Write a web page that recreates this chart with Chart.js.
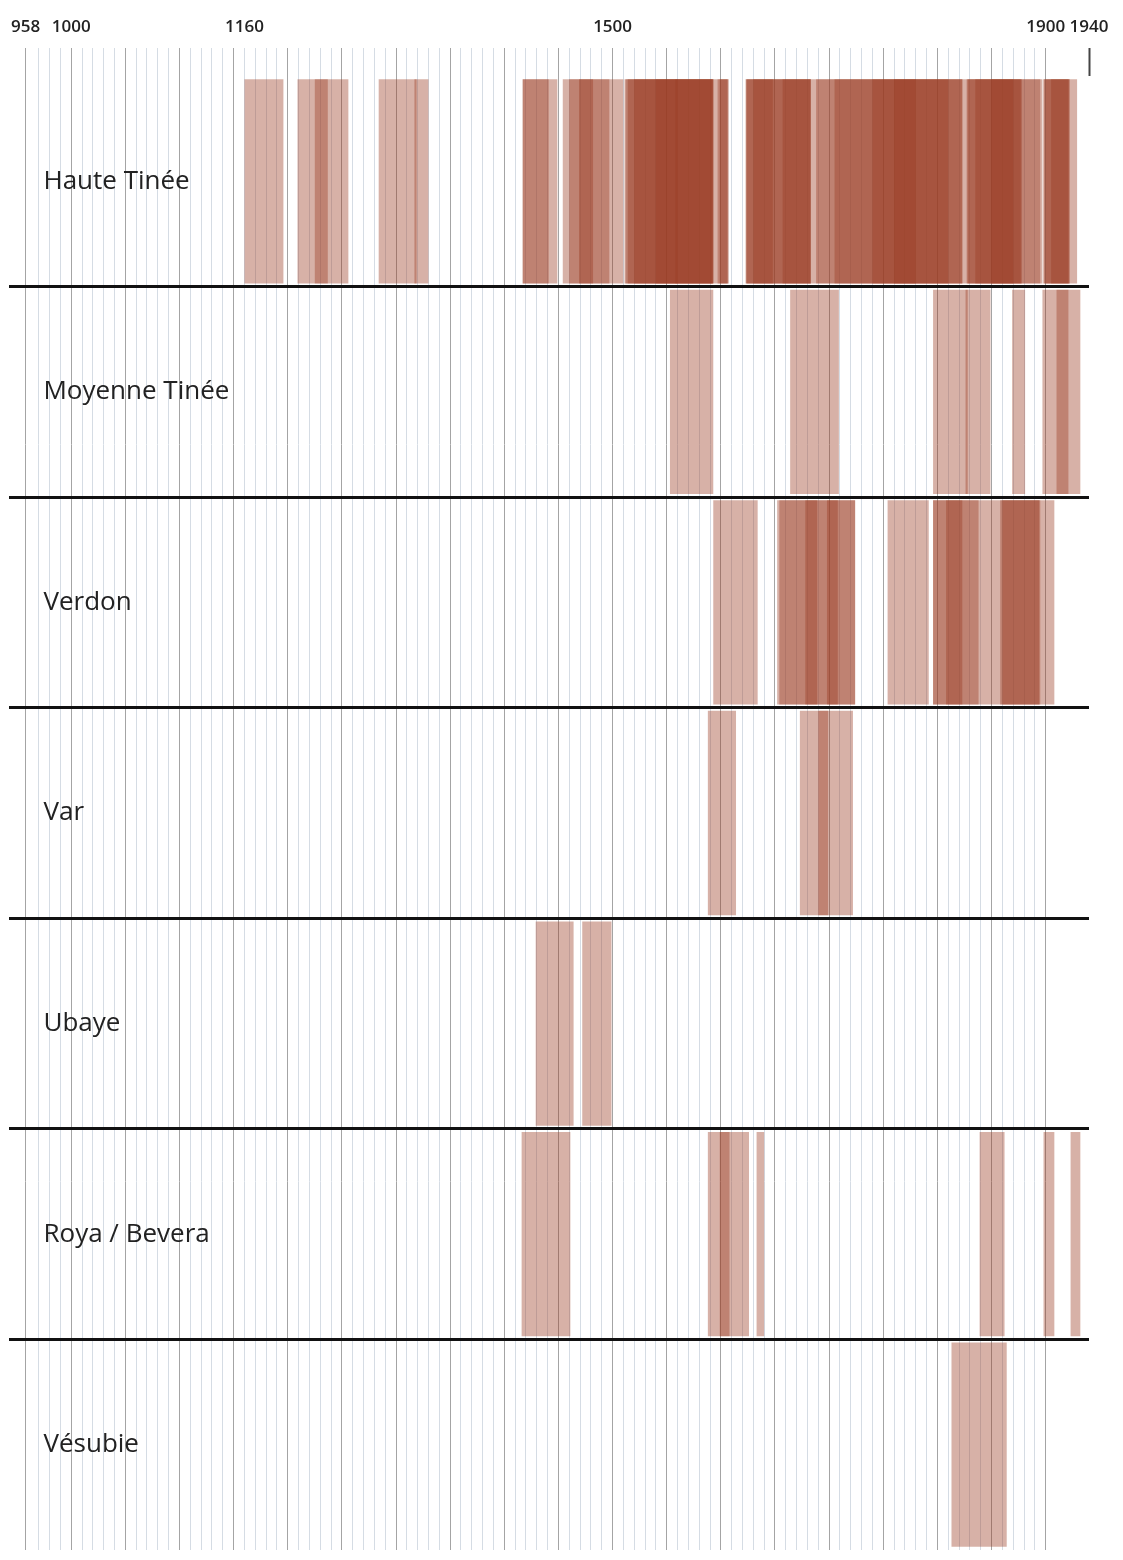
<!DOCTYPE html>
<html>
<head>
<meta charset="utf-8">
<title>Chronologie par vallée</title>
<script src="https://cdn.jsdelivr.net/npm/chart.js@4.4.1/dist/chart.umd.min.js"></script>
<style>
  html, body { margin: 0; padding: 0; background: #fff; }
  #wrap { width: 1123px; height: 1560px; position: relative; }
</style>
</head>
<body>
<div id="wrap"><canvas id="timeline"></canvas></div>
<script>
// valleys, top to bottom
const rows = ['Haute Tinée', 'Moyenne Tinée', 'Verdon', 'Var', 'Ubaye', 'Roya / Bevera', 'Vésubie'];

// date ranges [start, end] per valley
const hauteTinee = [
  [1160, 1196], [1209, 1237], [1225, 1256], [1284, 1319], [1317, 1330],
  [1417, 1449], [1417, 1441], [1454, 1510], [1460, 1497], [1469, 1482],
  [1511, 1598], [1512, 1593], [1514, 1560], [1520, 1593], [1540, 1592], [1558, 1593],
  [1597, 1607], [1598, 1607], [1599, 1606],
  [1623, 1700], [1623, 1648], [1624, 1683], [1630, 1683], [1657, 1683], [1688, 1699],
  [1699, 1823], [1700, 1780], [1705, 1822], [1740, 1823], [1760, 1810],
  [1822, 1897], [1827, 1878], [1828, 1870], [1835, 1878], [1850, 1877], [1878, 1895],
  [1898, 1922], [1898, 1921], [1900, 1922], [1905, 1929]
];
const moyenneTinee = [[1553, 1593], [1664, 1709], [1796, 1828], [1826, 1849], [1869, 1881], [1897, 1932], [1910, 1921]];
const verdon = [
  [1593, 1634], [1652, 1724], [1654, 1708], [1678, 1689], [1698, 1724], [1754, 1792],
  [1796, 1908], [1796, 1838], [1808, 1823], [1858, 1895], [1860, 1894]
];
const varRiver = [[1588, 1614], [1673, 1699], [1690, 1722]];
const ubaye = [[1429, 1464], [1472, 1499]];
const royaBevera = [[1416, 1461], [1588, 1626], [1599, 1608], [1633, 1640], [1839, 1862], [1898, 1908], [1923, 1932]];
const vesubie = [[1813, 1864]];

const rowRanges = [hauteTinee, moyenneTinee, verdon, varRiver, ubaye, royaBevera, vesubie];

// labelled years on the top axis
const yearLabels = [958, 1000, 1160, 1500, 1900, 1940];

// grid: one line per decade, plus the start and end marks
const gridYears = [958];
for (let y = 970; y <= 1900; y += 10) gridYears.push(y);
gridYears.push(1940);

const barColor = 'rgba(155, 60, 35, 0.4)';

const intervals = [];
rowRanges.forEach((ranges, i) => {
    ranges.forEach(r => intervals.push({ x: r, y: rows[i] }));
});

function isMajor(v) {
    return v === 958 || v % 50 === 0;
}

const ctx = document.getElementById('timeline').getContext('2d');
const timeline = new Chart(ctx, {
    type: 'bar',
    data: {
        labels: rows,
        datasets: [{
            data: intervals,
            backgroundColor: barColor,
            borderWidth: 0,
            barPercentage: 0.97,
            categoryPercentage: 1
        }]
    },
    options: {
        indexAxis: 'y',
        responsive: true,
        maintainAspectRatio: false,
        animation: false,
        layout: { padding: { left: 8, right: 34, top: 0, bottom: 10 } },
        plugins: {
            legend: { display: false },
            tooltip: { enabled: false }
        },
        scales: {
            x: {
                type: 'linear',
                position: 'top',
                min: 943,
                max: 1940,
                afterBuildTicks: scale => {
                    scale.ticks = gridYears.map(v => ({ value: v }));
                },
                afterFit: scale => { scale.height = 76; },
                ticks: {
                    autoSkip: false,
                    maxRotation: 0,
                    padding: 11,
                    color: '#222',
                    font: { family: 'Open Sans', size: 17, weight: '600' },
                    callback: v => yearLabels.includes(v) ? String(v) : ''
                },
                grid: {
                    lineWidth: 1,
                    tickLength: 28,
                    color: c => {
                        if (!c.tick || c.tick.value === 1940) return 'rgba(0,0,0,0)';
                        return isMajor(c.tick.value) ? '#a4a4a4' : '#d5dce4';
                    },
                    tickColor: c => {
                        if (!c.tick) return 'rgba(0,0,0,0)';
                        if (c.tick.value === 1940) return '#444';
                        return isMajor(c.tick.value) ? '#a4a4a4' : '#d5dce4';
                    },
                    tickWidth: c => (c.tick && c.tick.value === 1940) ? 2 : 1
                },
                border: { display: false }
            },
            y: {
                type: 'category',
                position: 'left',
                // labels sit inside the plot, so the axis takes no room
                afterFit: scale => {
                    scale.width = 0;
                    scale.paddingTop = 0;
                    scale.paddingBottom = 0;
                },
                ticks: {
                    mirror: true,
                    padding: 34,
                    color: '#222',
                    font: { family: 'Open Sans', size: 26 }
                },
                grid: {
                    offset: true,
                    drawTicks: false,
                    lineWidth: 3,
                    color: c => (c.type === 'tick' && c.index > 0) ? '#111' : 'rgba(0,0,0,0)'
                },
                border: { display: false }
            }
        }
    }
});
</script>
</body>
</html>
